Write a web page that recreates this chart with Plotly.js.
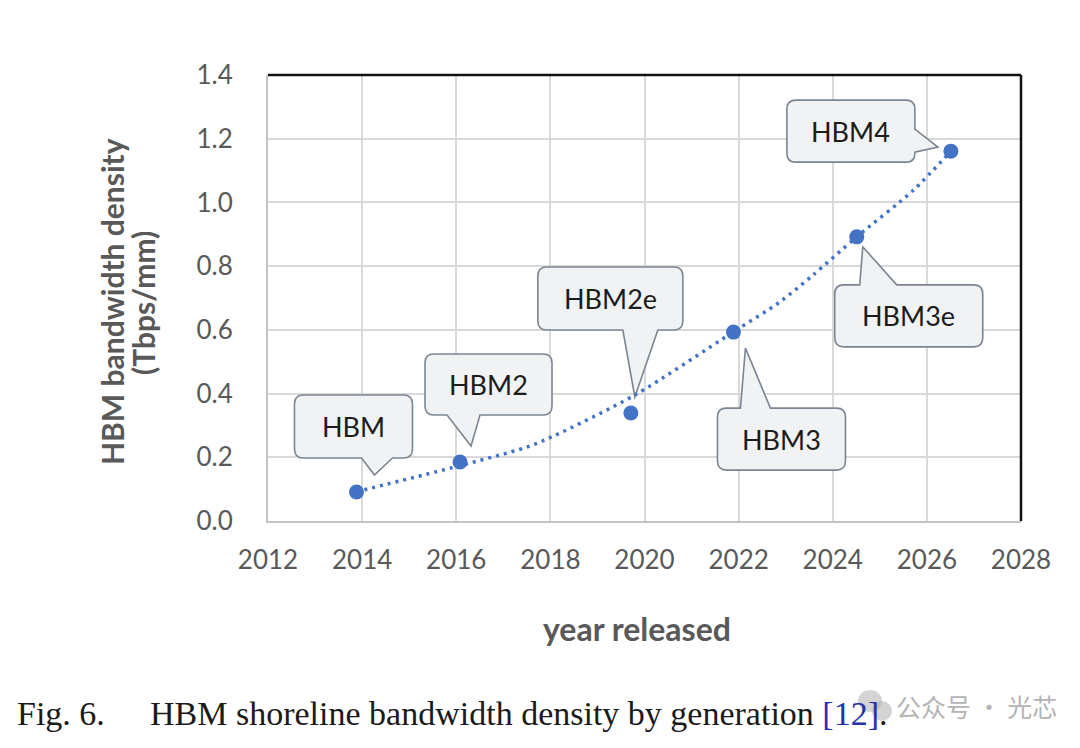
<!DOCTYPE html>
<html>
<head>
<meta charset="utf-8">
<script src="https://cdn.plot.ly/plotly-3.0.1.min.js"></script>
<style>html,body{margin:0;padding:0;background:#fff;}#chart{width:1080px;height:748px;}</style>
</head>
<body>
<div id="chart"></div>
<script>
// ---- data ----
const generations = ['HBM', 'HBM2', 'HBM2e', 'HBM3', 'HBM3e', 'HBM4'];
const yearReleased = [2013.88, 2016.08, 2019.71, 2021.89, 2024.51, 2026.51];
const bandwidthDensity = [0.091, 0.185, 0.339, 0.593, 0.892, 1.161];
// dotted trend curve
const trendYears = [2013.88, 2015.93, 2017.5, 2018.06, 2019.8, 2021.88, 2022.88, 2023.58, 2024.51, 2025.71, 2026.51];
const trendDensity = [0.092, 0.168, 0.232, 0.266, 0.396, 0.593, 0.688, 0.772, 0.892, 1.038, 1.161];
const xTickVals = [2012, 2014, 2016, 2018, 2020, 2022, 2024, 2026, 2028];
const yTickVals = [0, 0.2, 0.4, 0.6, 0.8, 1.0, 1.2, 1.4];
const yTitleLines = ['HBM bandwidth density', '(Tbps/mm)'];
const xTitle = 'year released';

// ---- callout geometry (pixels relative to the point, y up) ----
const callouts = {
  'HBM':   {x0: -62, x1: 56,   top: 97,  bottom: 34,   side: 'bottom', b1: 5,   b2: 36,  tip: [18, 17]},
  'HBM2':  {x0: -35, x1: 92,   top: 108, bottom: 47,   side: 'bottom', b1: -13, b2: 20,  tip: [11, 16]},
  'HBM2e': {x0: -93, x1: 52,   top: 146, bottom: 83,   side: 'bottom', b1: -8,  b2: 27,  tip: [4, 16]},
  'HBM3':  {x0: -16, x1: 112,  top: -76, bottom: -138, side: 'top',    b1: 7,   b2: 37,  tip: [12, -16]},
  'HBM3e': {x0: -22, x1: 126,  top: -48, bottom: -110, side: 'top',    b1: 3,   b2: 40,  tip: [6, -10]},
  'HBM4':  {x0: -164, x1: -36, top: 51,  bottom: -11,  side: 'right',  b1: 22,  b2: -1,  tip: [-13, 4]}
};

function calloutPath(c) {
  const r = 9;
  const p = [];
  const pt = (x, y) => x + ',' + y;
  p.push('M' + pt(c.x0 + r, c.top));
  if (c.side === 'top') { p.push('L' + pt(c.b1, c.top), 'L' + pt(c.tip[0], c.tip[1]), 'L' + pt(c.b2, c.top)); }
  p.push('L' + pt(c.x1 - r, c.top), 'Q' + pt(c.x1, c.top) + ' ' + pt(c.x1, c.top - r));
  if (c.side === 'right') { p.push('L' + pt(c.x1, c.b1), 'L' + pt(c.tip[0], c.tip[1]), 'L' + pt(c.x1, c.b2)); }
  p.push('L' + pt(c.x1, c.bottom + r), 'Q' + pt(c.x1, c.bottom) + ' ' + pt(c.x1 - r, c.bottom));
  if (c.side === 'bottom') { p.push('L' + pt(c.b2, c.bottom), 'L' + pt(c.tip[0], c.tip[1]), 'L' + pt(c.b1, c.bottom)); }
  p.push('L' + pt(c.x0 + r, c.bottom), 'Q' + pt(c.x0, c.bottom) + ' ' + pt(c.x0, c.bottom + r));
  p.push('L' + pt(c.x0, c.top - r), 'Q' + pt(c.x0, c.top) + ' ' + pt(c.x0 + r, c.top), 'Z');
  return p.join(' ');
}

const sansFamily = 'Lato, "Open Sans", sans-serif';
const shapes = [];
const annotations = [];
generations.forEach((g, i) => {
  const c = callouts[g];
  shapes.push({
    type: 'path', layer: 'between',
    xref: 'x', yref: 'y', xsizemode: 'pixel', ysizemode: 'pixel',
    xanchor: yearReleased[i], yanchor: bandwidthDensity[i],
    path: calloutPath(c),
    fillcolor: '#f1f2f4', line: {color: '#7b8692', width: 1.6}
  });
  annotations.push({
    x: yearReleased[i], y: bandwidthDensity[i], xref: 'x', yref: 'y',
    text: g, showarrow: false,
    xshift: (c.x0 + c.x1) / 2, yshift: (c.top + c.bottom) / 2,
    font: {family: sansFamily, size: 27, color: '#1c1c1c'}
  });
});

// plot frame: black top and right
shapes.push({type: 'line', xref: 'paper', yref: 'paper', x0: 0, x1: 1, y0: 1, y1: 1, line: {color: '#111', width: 2.5}});
shapes.push({type: 'line', xref: 'paper', yref: 'paper', x0: 1, x1: 1, y0: 0, y1: 1, line: {color: '#111', width: 2.5}});

const pxX = x => (x - 268) / 753, pxY = y => (521 - y) / 446;

// y-axis title, two lines
annotations.push({
  xref: 'paper', yref: 'paper', x: pxX(112), y: pxY(302), xanchor: 'center', yanchor: 'middle',
  text: '<b>' + yTitleLines[0] + '</b>', textangle: -90, showarrow: false,
  font: {family: sansFamily, size: 30, color: '#595959'}
});
annotations.push({
  xref: 'paper', yref: 'paper', x: pxX(143), y: pxY(303), xanchor: 'center', yanchor: 'middle',
  text: '<b>' + yTitleLines[1] + '</b>', textangle: -90, showarrow: false,
  font: {family: sansFamily, size: 30, color: '#595959'}
});
// x-axis title
annotations.push({
  xref: 'paper', yref: 'paper', x: pxX(637), y: pxY(628), xanchor: 'center', yanchor: 'middle',
  text: '<b>' + xTitle + '</b>', showarrow: false,
  font: {family: sansFamily, size: 32, color: '#595959'}
});

// caption
const capY = pxY(713);
const serif = '"Liberation Serif", "Times New Roman", serif';
annotations.push({
  xref: 'paper', yref: 'paper', x: pxX(15), y: capY, xanchor: 'left', yanchor: 'middle',
  text: 'Fig. 6.', showarrow: false,
  font: {family: serif, size: 34, color: '#1a1a1a'}
});
annotations.push({
  xref: 'paper', yref: 'paper', x: pxX(148), y: capY, xanchor: 'left', yanchor: 'middle',
  text: 'HBM shoreline bandwidth density by generation <span style="color:#2233a8">[12]</span>.', showarrow: false,
  font: {family: serif, size: 34, color: '#1a1a1a'}
});
// watermark
annotations.push({
  xref: 'paper', yref: 'paper', x: pxX(894), y: pxY(706), xanchor: 'left', yanchor: 'middle',
  text: '公众号 · 光芯', showarrow: false,
  font: {family: '"Noto Sans CJK SC", sans-serif', size: 25, color: '#b4b4b4'}
});
shapes.push({type: 'circle', xref: 'paper', yref: 'paper', x0: pxX(858), x1: pxX(882), y0: pxY(690), y1: pxY(712), fillcolor: 'rgba(170,170,170,0.5)', line: {width: 0}});
shapes.push({type: 'circle', xref: 'paper', yref: 'paper', x0: pxX(872), x1: pxX(892), y0: pxY(701), y1: pxY(721), fillcolor: 'rgba(170,170,170,0.5)', line: {width: 0}});

const traces = [
  {
    x: trendYears, y: trendDensity, type: 'scatter', mode: 'lines',
    line: {color: '#4472c4', width: 3.5, dash: '3px,5px', shape: 'spline', smoothing: 0.8},
    hoverinfo: 'skip'
  },
  {
    x: yearReleased, y: bandwidthDensity, type: 'scatter', mode: 'markers',
    marker: {color: '#4472c4', size: 15},
    text: generations
  }
];

const tickFont = {family: sansFamily, size: 26, color: '#595959'};
const layout = {
  width: 1080, height: 748,
  margin: {l: 268, r: 59, t: 75, b: 227},
  paper_bgcolor: '#ffffff', plot_bgcolor: '#ffffff',
  showlegend: false,
  xaxis: {
    range: [2012, 2028], tickvals: xTickVals, ticktext: xTickVals.map(String),
    showgrid: true, gridcolor: '#d9d9d9', gridwidth: 2,
    showline: true, linecolor: '#c4c4c4', linewidth: 2,
    zeroline: false, ticks: '', tickfont: tickFont, ticklabelstandoff: 15
  },
  yaxis: {
    range: [0, 1.4], tickvals: yTickVals, ticktext: yTickVals.map(v => v.toFixed(1)),
    showgrid: true, gridcolor: '#d9d9d9', gridwidth: 2,
    showline: true, linecolor: '#c4c4c4', linewidth: 2,
    zeroline: false, ticks: '', tickfont: tickFont, ticklabelstandoff: 28
  },
  shapes: shapes,
  annotations: annotations
};

Plotly.newPlot('chart', traces, layout, {staticPlot: true, displayModeBar: false});
</script>
</body>
</html>
